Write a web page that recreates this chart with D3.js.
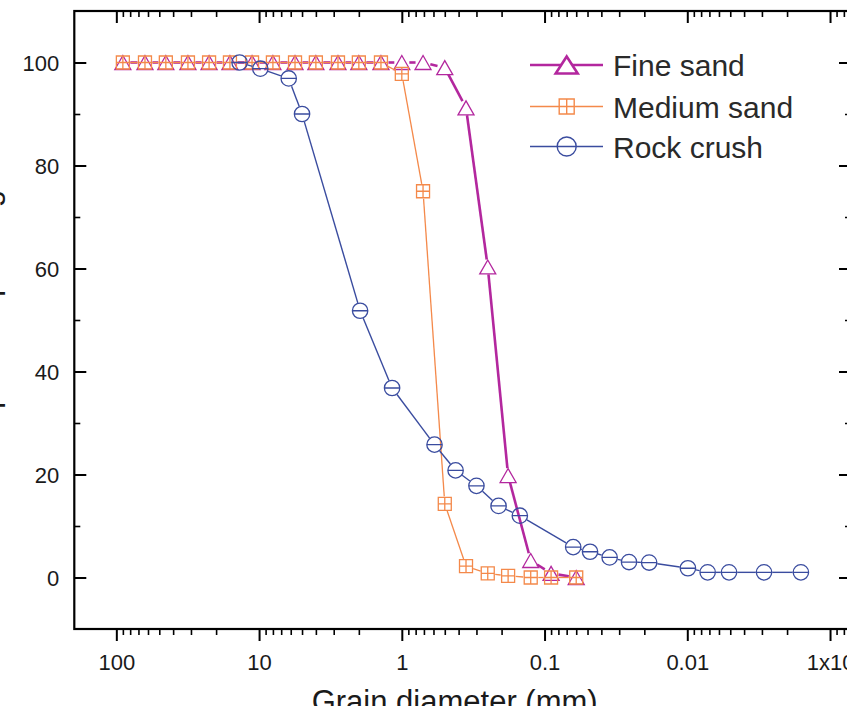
<!DOCTYPE html>
<html><head><meta charset="utf-8">
<script src="https://cdn.jsdelivr.net/npm/d3@7"></script>
<style>
body{margin:0;background:#fff}
svg{display:block}
text{font-family:"Liberation Sans",Arial,sans-serif}
</style>
</head><body>
<svg id="c" width="847" height="706"></svg>
<script>
// ---- data ----
const sieveSizes = [90,63,45,31.5,22.4,16,11.2,8,5.6,4,2.8,2,1.4,1,0.71,0.5,0.355,0.25,0.18,0.125,0.09,0.06];
const fineSand   = [100,100,100,100,100,100,100,100,100,100,100,100,100,100,100,99,91.2,60.3,19.8,3.3,0.8,0];
const mediumSand = [100,100,100,100,100,100,100,100,100,100,100,100,100,97.8,75,14.3,2.2,0.8,0.3,0,0,0];
const rockSizes  = [13.7,9.8,6.2,5.0,1.96,1.17,0.59,0.42,0.30,0.21,0.149,0.063,0.048,0.035,0.0256,0.0185,0.0099,0.0072,0.0051,0.0029,0.0016];
const rockCrush  = [100,98.8,96.9,90,51.8,36.8,25.8,20.8,17.8,13.9,12,5.9,5,3.9,3,2.9,1.8,1,1,1,1];
const seriesNames = ["Fine sand","Medium sand","Rock crush"];
const xTickValues = [100,10,1,0.1,0.01,0.001];
const xTickLabels = ["100","10","1","0.1","0.01","1x10|-3"];
const yTickValues = [0,20,40,60,80,100];
const yTickLabels = ["0","20","40","60","80","100"];
const yMinorValues = [10,30,50,70,90];
const xDomain = [197,0.000713];
const yDomain = [-10,110];
const xTitle = "Grain diameter (mm)";
const yTitle = "Mass percent passing";

// ---- layout ----
const P = {l:74.3, r:851, t:11, b:629};
const svg = d3.select("#c");
const x = d3.scaleLog().domain(xDomain).range([P.l, P.r]);
const y = d3.scaleLinear().domain(yDomain).range([P.b, P.t]);

const xMinor = [];
for (let e=-4;e<=2;e++) for (let k=2;k<=9;k++){
  const v = +(k*Math.pow(10,e)).toPrecision(6);
  if (v<=xDomain[0] && v>=xDomain[1]) xMinor.push(v);
}

function clean(g, w){
  g.select(".domain").remove();
  g.selectAll(".tick line").attr("stroke","#000").attr("stroke-width",w);
}
const fontAttrs = g => g.attr("font-family",'"Liberation Sans",Arial,sans-serif').attr("font-size",22);

// bottom
svg.append("g").attr("transform",`translate(0,${P.b})`)
  .call(d3.axisBottom(x).tickValues(xMinor).tickSize(6).tickFormat("")).call(g=>clean(g,1.6));
const bx = svg.append("g").attr("transform",`translate(0,${P.b})`)
  .call(d3.axisBottom(x).tickValues(xTickValues).tickSize(12).tickPadding(13.5)
    .tickFormat((d,i)=>xTickLabels[i]))
  .call(g=>clean(g,2)).call(fontAttrs);
bx.selectAll(".tick text").attr("fill","#1a1a1a").each(function(d,i){
  const lab = xTickLabels[i];
  if (lab.includes("|")){
    const [base,sup] = lab.split("|");
    const t = d3.select(this).text(null).attr("text-anchor","start");
    const b = t.append("tspan").text(base);
    const bw = b.node().getComputedTextLength();
    t.attr("x",-bw/2);
    t.append("tspan").attr("font-size",14).attr("dy","-0.6em").text(sup);
  }
});
// top
svg.append("g").attr("transform",`translate(0,${P.t})`)
  .call(d3.axisTop(x).tickValues(xMinor).tickSize(-6).tickFormat("")).call(g=>clean(g,1.6));
svg.append("g").attr("transform",`translate(0,${P.t})`)
  .call(d3.axisTop(x).tickValues(xTickValues).tickSize(-12).tickFormat("")).call(g=>clean(g,2));
// left
svg.append("g").attr("transform",`translate(${P.l},0)`)
  .call(d3.axisLeft(y).tickValues(yMinorValues).tickSize(-6).tickFormat("")).call(g=>clean(g,1.6));
const ly = svg.append("g").attr("transform",`translate(${P.l},0)`)
  .call(d3.axisLeft(y).tickValues(yTickValues).tickSize(-12).tickPadding(15)
    .tickFormat((d,i)=>yTickLabels[i]))
  .call(g=>clean(g,2)).call(fontAttrs);
ly.selectAll(".tick text").attr("fill","#1a1a1a").attr("dy","0.36em");
// right
svg.append("g").attr("transform",`translate(${P.r},0)`)
  .call(d3.axisRight(y).tickValues(yMinorValues).tickSize(-6).tickFormat("")).call(g=>clean(g,1.6));
svg.append("g").attr("transform",`translate(${P.r},0)`)
  .call(d3.axisRight(y).tickValues(yTickValues).tickSize(-12).tickFormat("")).call(g=>clean(g,2));

// frame
svg.append("rect").attr("x",P.l).attr("y",P.t).attr("width",P.r-P.l).attr("height",P.b-P.t)
  .attr("fill","none").attr("stroke","#000").attr("stroke-width",2.2);

// titles
svg.append("text").attr("x",(P.l+P.r)/2-8).attr("y",712).attr("text-anchor","middle")
  .attr("font-size",31).attr("fill","#1a1a1a").text(xTitle);
svg.append("text").attr("transform",`translate(-2,190) rotate(-90)`).attr("text-anchor","end")
  .attr("font-size",31).attr("fill","#1a1a1a").text(yTitle);

// ---- series ----
const series = [
  {name:seriesNames[0], xs:sieveSizes, ys:fineSand,   color:"#b3279e", lw:2.6, marker:"tri", gap:7.5},
  {name:seriesNames[1], xs:sieveSizes, ys:mediumSand, color:"#f4894a", lw:1.3, marker:"sq",  gap:7.5},
  {name:seriesNames[2], xs:rockSizes,  ys:rockCrush,  color:"#3a4c9f", lw:1.4, marker:"circ",gap:8.2}
];
function markerPath(type, s){
  if (type==="tri"){ const w=s.w/2,h=s.h/2; return `M0,${-h}L${w},${h}L${-w},${h}Z`; }
  if (type==="sq"){ const a=s.w/2; return `M${-a},${-a}h${2*a}v${2*a}h${-2*a}Z M0,${-a}v${2*a} M${-a},0h${2*a}`; }
  const r=s.w/2; return `M${r},0A${r},${r} 0 1,1 ${-r},0A${r},${r} 0 1,1 ${r},0Z M${-r},0h${2*r}`;
}
const plotSize = {tri:{w:16,h:14}, sq:{w:13}, circ:{w:15.4}};
const legSize  = {tri:{w:22,h:17}, sq:{w:15}, circ:{w:19}};

series.forEach(s=>{
  const pts = s.xs.map((v,i)=>({x:x(v), y:y(s.ys[i])}));
  const segs = [];
  for (let i=0;i<pts.length-1;i++){
    const a=pts[i], b=pts[i+1];
    const dx=b.x-a.x, dy=b.y-a.y, d=Math.hypot(dx,dy);
    if (d>2*s.gap){
      const ux=dx/d, uy=dy/d;
      segs.push({x1:a.x+ux*s.gap, y1:a.y+uy*s.gap, x2:b.x-ux*s.gap, y2:b.y-uy*s.gap});
    }
  }
  const g = svg.append("g");
  g.selectAll("line").data(segs).join("line")
    .attr("x1",d=>d.x1).attr("y1",d=>d.y1).attr("x2",d=>d.x2).attr("y2",d=>d.y2)
    .attr("stroke",s.color).attr("stroke-width",s.lw).attr("stroke-linecap","butt");
  s.g = g; s.pts = pts;
});
series.forEach(s=>{
  s.g.selectAll("path").data(s.pts).join("path")
    .attr("transform",d=>`translate(${d.x},${d.y})`)
    .attr("d",markerPath(s.marker, plotSize[s.marker]))
    .attr("fill","none").attr("stroke",s.color).attr("stroke-width",1.3);
});

// ---- legend ----
const legY = [65,106.5,146.5];
const lg = svg.append("g");
series.forEach((s,i)=>{
  const row = lg.append("g").attr("transform",`translate(0,${legY[i]})`);
  row.append("line").attr("x1",530).attr("x2",603).attr("stroke",s.color).attr("stroke-width",s.lw);
  row.append("path").attr("transform","translate(566.7,0)")
    .attr("d",markerPath(s.marker, legSize[s.marker]))
    .attr("fill","#fff").attr("stroke",s.color).attr("stroke-width", s.marker==="tri"?2.6:1.4);
  row.append("text").attr("x",613).attr("y",11).attr("font-size",30).attr("fill","#2a2a2a").text(s.name);
});
</script>
</body></html>
